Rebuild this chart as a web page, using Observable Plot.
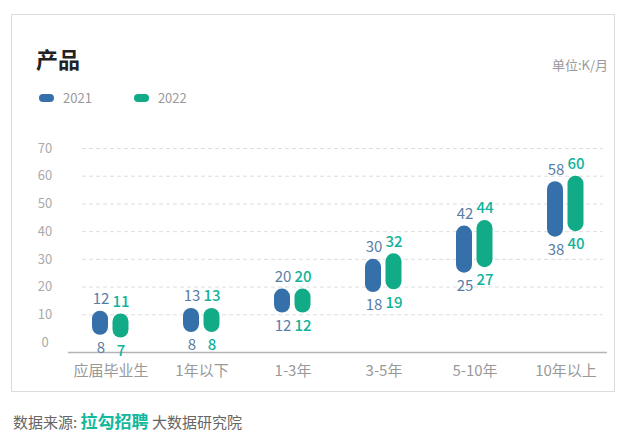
<!DOCTYPE html>
<html><head><meta charset="utf-8">
<script src="https://cdn.jsdelivr.net/npm/d3@7"></script>
<script src="https://cdn.jsdelivr.net/npm/@observablehq/plot@0.6"></script>
<style>
body{margin:0;background:#fff;font-family:"Noto Sans CJK SC","Noto Sans",sans-serif;width:627px;height:437px;position:relative;overflow:hidden}
.card{position:absolute;left:11px;top:14px;width:604px;height:378px;border:1px solid #dcdcdc;box-sizing:border-box}
.title{position:absolute;left:36px;top:44px;font-size:22px;font-weight:bold;color:#222;line-height:28px}
.unit{position:absolute;right:19px;top:56px;font-size:13px;color:#999;line-height:18px}
.legend{position:absolute;left:39px;top:89px;font-size:13px;color:#999;line-height:18px;display:flex;align-items:center}
.legend .sw{display:inline-block;width:15px;height:8px;border-radius:4px;margin-right:9px}
.legend .item{display:flex;align-items:center;margin-right:42px}
#chart{position:absolute;left:0;top:120px}
.caption{position:absolute;left:13px;top:410px;font-size:15px;color:#666;line-height:22px}
.caption b{color:#14b89c;font-weight:bold;font-size:17px}
</style></head>
<body>
<div class="card"></div>
<div class="title">产品</div>
<div class="unit">单位:K/月</div>
<div class="legend">
  <span class="item"><span class="sw" style="background:#3670aa"></span>2021</span>
  <span class="item"><span class="sw" style="background:#12ab88"></span>2022</span>
</div>
<div id="chart"></div>
<div class="caption">数据来源: <b>拉勾招聘</b> 大数据研究院</div>
<script>
const categories = ["应届毕业生","1年以下","1-3年","3-5年","5-10年","10年以上"];
const low2021  = [8, 8, 12, 18, 25, 38];
const high2021 = [12, 13, 20, 30, 42, 58];
const low2022  = [7, 8, 12, 19, 27, 40];
const high2022 = [11, 13, 20, 32, 44, 60];
const yTicks = [0, 10, 20, 30, 40, 50, 60, 70];
const gridLines = [10, 20, 30, 40, 50, 60, 70];

const blue = "#3670aa", green = "#12ab88";
const blueText = "#5a7da6", greenText = "#11b39b";

const d2021 = categories.map((c, i) => ({cat: c, low: low2021[i], high: high2021[i]}));
const d2022 = categories.map((c, i) => ({cat: c, low: low2022[i], high: high2022[i]}));

const font = `"Noto Sans CJK SC","Noto Sans",sans-serif`;

const svg = Plot.plot({
  width: 627,
  height: 270,
  marginLeft: 64.5,
  marginRight: 16.5,
  marginTop: 28,
  marginBottom: 48,
  style: {fontFamily: font, background: "transparent", color: "#999"},
  x: {domain: categories, padding: 0, axis: null},
  y: {domain: [0, 70], axis: null},
  marks: [
    Plot.ruleY(gridLines, {stroke: "#dedede", strokeDasharray: "4,3", insetLeft: 17.5, insetRight: 7.5}),
    Plot.ruleY([0], {dy: 10, stroke: "#b4b4b4", strokeWidth: 1.5, insetLeft: 3.5, insetRight: 3.5}),
    Plot.text(yTicks, {x: () => categories[0], y: d => d, text: d => String(d), dx: -66, fill: "#aaa", fontSize: 13, textAnchor: "middle"}),
    Plot.text(categories, {x: d => d, y: () => 0, text: d => d, dy: 29, fill: "#999", fontSize: 15}),
    Plot.barY(d2021, {x: "cat", y1: "low", y2: "high", fill: blue, rx: 8, insetLeft: 27, insetRight: 48, ariaDescription: "bars"}),
    Plot.barY(d2022, {x: "cat", y1: "low", y2: "high", fill: green, rx: 8, insetLeft: 47.5, insetRight: 27.5, ariaDescription: "bars"}),
    Plot.text(d2021, {x: "cat", y: "high", text: d => String(d.high), dx: -10, dy: -12, fill: blueText, fontSize: 15, ariaDescription: "high"}),
    Plot.text(d2022, {x: "cat", y: "high", text: d => String(d.high), dx: 10, dy: -12, fill: greenText, fontSize: 15, fontWeight: 500, ariaDescription: "high"}),
    Plot.text(d2021, {x: "cat", y: "low", text: d => String(d.low), dx: -10, dy: 13, fill: blueText, fontSize: 15, ariaDescription: "low"}),
    Plot.text(d2022, {x: "cat", y: "low", text: d => String(d.low), dx: 10, dy: 13, fill: greenText, fontSize: 15, fontWeight: 500, ariaDescription: "low"})
  ]
});
document.getElementById("chart").appendChild(svg);

// Stylize short bars into pills with a minimum height, as in the reference
const MIN_H = 24;
const barGroups = svg.querySelectorAll('g[aria-description="bars"]');
const highGroups = svg.querySelectorAll('g[aria-description="high"]');
const lowGroups = svg.querySelectorAll('g[aria-description="low"]');
function shift(el, delta) {
  if (!el || !delta) return;
  const t = el.getAttribute("transform") || "";
  el.setAttribute("transform", `translate(0,${delta}) ${t}`.trim());
}
barGroups.forEach((g, gi) => {
  const rects = g.querySelectorAll("rect");
  const highs = highGroups[gi] ? highGroups[gi].querySelectorAll("text") : [];
  const lows = lowGroups[gi] ? lowGroups[gi].querySelectorAll("text") : [];
  rects.forEach((r, i) => {
    const y = +r.getAttribute("y"), h = +r.getAttribute("height");
    if (h < MIN_H) {
      const ny = y + 2;
      r.setAttribute("y", ny);
      r.setAttribute("height", MIN_H);
      shift(highs[i], 2);
      shift(lows[i], (ny + MIN_H) - (y + h));
    }
  });
});
</script>
</body></html>
